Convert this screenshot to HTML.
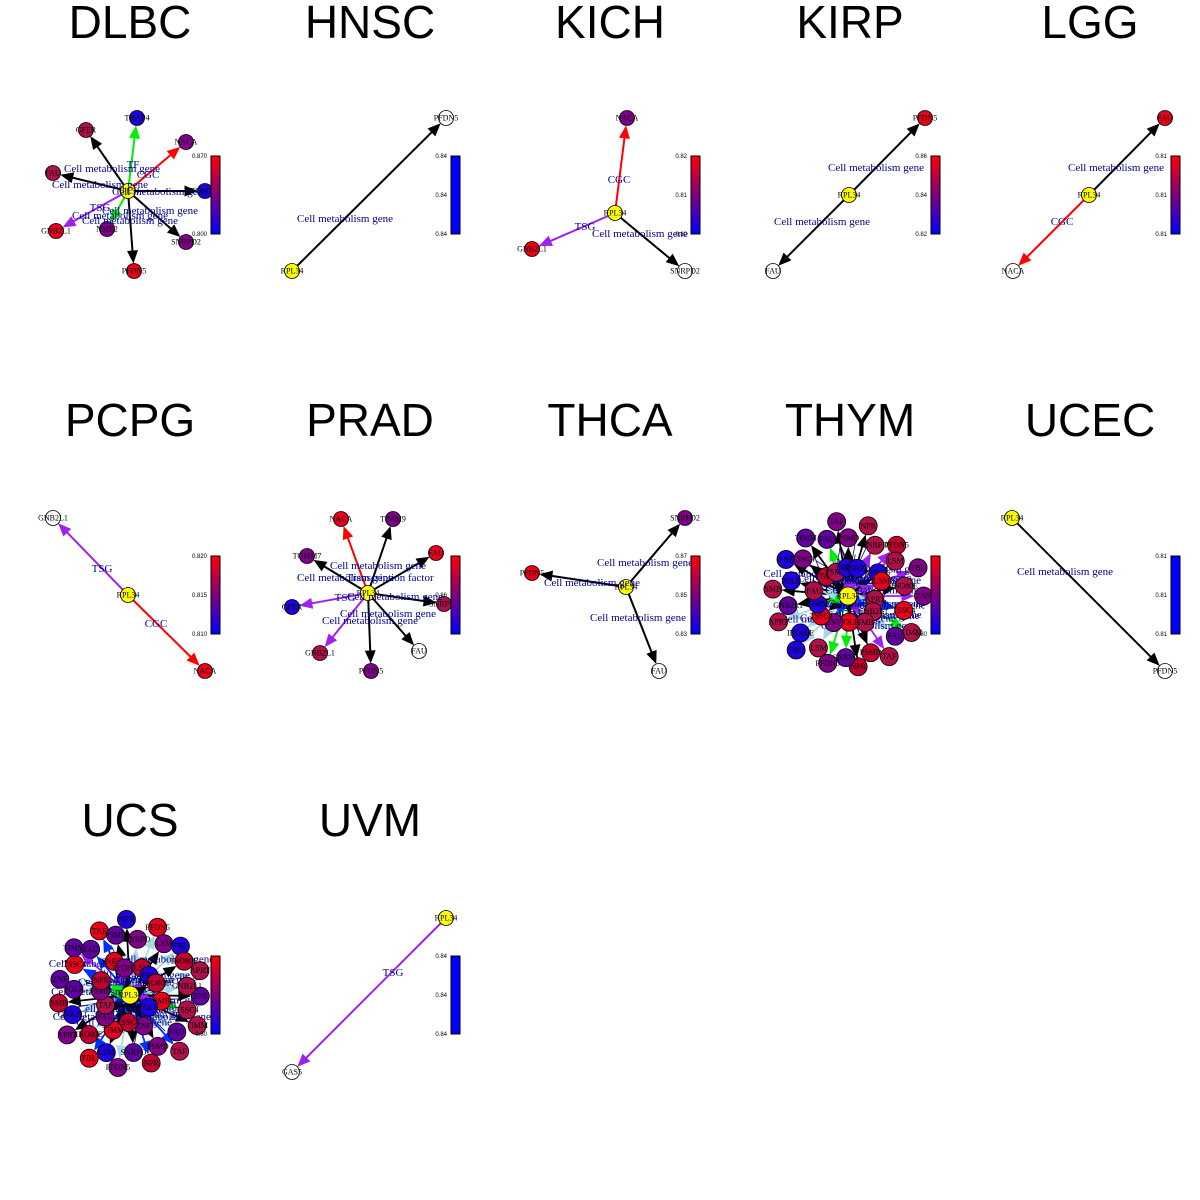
<!DOCTYPE html>
<html><head><meta charset="utf-8"><style>
html,body{margin:0;padding:0;background:#fff;width:1200px;height:1200px;overflow:hidden}
svg{display:block}
</style></head><body>
<svg id="s" width="1200" height="1200" xmlns="http://www.w3.org/2000/svg">
<defs>
<linearGradient id="cb" x1="0" y1="0" x2="0" y2="1">
<stop offset="0" stop-color="#ff0000"/><stop offset="0.5" stop-color="#800080"/><stop offset="1" stop-color="#0000ff"/>
</linearGradient>
</defs>
</svg>
<script>
var s=document.getElementById('s');var NS='http://www.w3.org/2000/svg';
function el(t,a,txt){var e=document.createElementNS(NS,t);for(var k in a)e.setAttribute(k,a[k]);if(txt!=null)e.textContent=txt;s.appendChild(e);return e;}
var seed=7;function rnd(){seed=(seed*16807)%2147483647;return seed/2147483647;}
var titles=[['DLBC',130,22],['HNSC',370,22],['KICH',610,22],['KIRP',850,22],['LGG',1090,22],['PCPG',130,420],['PRAD',370,420],['THCA',610,420],['THYM',850,420],['UCEC',1090,420],['UCS',130,820],['UVM',370,820]];
titles.forEach(function(t){el('text',{x:t[1],y:t[2]+16,'font-family':'Liberation Sans, sans-serif','font-size':46,'text-anchor':'middle'},t[0]);});
function cbar(ox,oy,labs,solid){el('rect',{x:ox+211,y:oy+156,width:9,height:78,fill:solid?'#0000ff':'url(#cb)',stroke:'#000','stroke-width':1});
 for(var i=0;i<3;i++)el('text',{x:ox+207,y:oy+158+i*39,'font-family':'Liberation Sans, sans-serif','font-size':6,'text-anchor':'end'},labs[i]);}
function arrow(x1,y1,x2,y2,c,w,nr){nr=nr||7.5;var dx=x2-x1,dy=y2-y1,L=Math.sqrt(dx*dx+dy*dy);var ux=dx/L,uy=dy/L;var ex=x2-ux*nr,ey=y2-uy*nr;
 el('line',{x1:x1,y1:y1,x2:ex-ux*8,y2:ey-uy*8,stroke:c,'stroke-width':w||2});
 var bx=ex-ux*13,by=ey-uy*13;el('polygon',{points:ex+','+ey+' '+(bx-uy*5.5)+','+(by+ux*5.5)+' '+(bx+uy*5.5)+','+(by-ux*5.5),fill:c});}
function node(x,y,f,l,r){el('circle',{cx:x,cy:y,r:r||7.5,fill:f,stroke:'#000','stroke-width':0.8});if(l)el('text',{x:x,y:y+2.5,'font-family':'Liberation Serif, serif','font-size':8,'text-anchor':'middle'},l);}
function lab(x,y,t){el('text',{x:x,y:y,'font-family':'Liberation Serif, serif','font-size':11,fill:'#00008b','text-anchor':'middle'},t);}
var R='#e8001c',P='#80008a',B='#2000e0',C='#b0104a',W='#fff',Y='#ffff00',BK='#000',GR='#00ee00',PU='#a020f0',RE='#ff0000',LB='#a8d8e8';
function star(cx,cy,nodes,labels){nodes.forEach(function(n){arrow(cx,cy,n[0],n[1],n[4]||BK);});nodes.forEach(function(n){node(n[0],n[1],n[2],n[3]);});node(cx,cy,Y,'RPL34');(labels||[]).forEach(function(l){lab(l[0],l[1],l[2]);});}
star(128,191,[[137,118,B,'THAP4',GR],[86,130,C,'GFER'],[186,142,P,'NACA',RE],[53,173,C,'FAU'],[205,191,B,'TOMM7'],[56,231,R,'GNB2L1',PU],[107,229,P,'NME2',GR],[186,242,P,'SNRPD2'],[134,271,R,'PFDN5']],
[[112,172,'Cell metabolism gene'],[100,188,'Cell metabolism gene'],[160,195,'Cell metabolism gene'],[133,168,'TF'],[148,178,'CGC'],[100,211,'TSG'],[150,214,'Cell metabolism gene'],[120,219,'Cell metabolism gene'],[130,224,'Cell metabolism gene']]);
cbar(0,0,['0.870','','0.800']);
arrow(292,271,446,118,BK);node(446,118,W,'PFDN5');node(292,271,Y,'RPL34');lab(345,222,'Cell metabolism gene');cbar(240,0,['0.84','0.84','0.84'],1);
star(615,213,[[627,118,P,'NACA',RE],[532,249,R,'GNB2L1',PU],[685,271,W,'SNRPD2']],[[619,183,'CGC'],[585,230,'TSG'],[640,237,'Cell metabolism gene']]);cbar(480,0,['0.82','0.81','0.80']);
star(849,195,[[925,118,R,'PFDN5'],[773,271,W,'FAU']],[[876,171,'Cell metabolism gene'],[822,225,'Cell metabolism gene']]);cbar(720,0,['0.86','0.84','0.82']);
star(1089,195,[[1165,118,R,'FAU'],[1013,271,W,'NACA',RE]],[[1116,171,'Cell metabolism gene'],[1062,225,'CGC']]);cbar(960,0,['0.81','0.81','0.81']);
star(128,595,[[53,518,W,'GNB2L1',PU],[205,671,R,'NACA',RE]],[[102,572,'TSG'],[156,627,'CGC']]);cbar(0,400,['0.820','0.815','0.810']);
star(368,593,[[341,519,R,'NACA',RE],[393,519,P,'TIMM9'],[307,556,P,'TOMM7'],[436,553,R,'FAU'],[444,604,C,'SNRPD2'],[292,607,B,'GFER',PU],[320,653,C,'GNB2L1',PU],[371,671,P,'PFDN5'],[419,651,W,'FAU']],
[[378,569,'Cell metabolism gene'],[345,581,'Cell metabolism gene'],[390,581,'Transcription factor'],[345,601,'TSG'],[395,600,'Cell metabolism gene'],[388,617,'Cell metabolism gene'],[370,624,'Cell metabolism gene']]);cbar(240,400,['','0.86','']);
star(626,587,[[685,518,P,'SNRPD2'],[532,573,R,'PFDN5'],[659,671,W,'FAU']],[[645,566,'Cell metabolism gene'],[592,586,'Cell metabolism gene'],[638,621,'Cell metabolism gene']]);cbar(480,400,['0.87','0.85','0.83']);
arrow(1012,518,1165,671,BK);node(1165,671,W,'PFDN5');node(1012,518,Y,'RPL34');lab(1065,575,'Cell metabolism gene');cbar(960,400,['0.81','0.81','0.81'],1);
arrow(446,918,292,1072,PU);node(292,1072,W,'GAS5');node(446,918,Y,'RPL34');lab(393,976,'TSG');cbar(240,800,['0.84','0.84','0.84'],1);
function dense(cx,cy,ox,oy,n){var cols=[R,P,B,C,'#6000a0','#c00030'];var ecol=[BK,BK,BK,LB,LB,GR,PU,'#0030ff'];var pts=[];
 for(var i=0;i<n;i++){var a=i/n*6.283+rnd()*0.1;var r=i%2?56+rnd()*8:70+rnd()*6;pts.push([cx+Math.cos(a)*r,cy+Math.sin(a)*r]);}
 for(var i=0;i<14;i++){var a=i/14*6.283+rnd()*0.3,r=22+rnd()*18;pts.push([cx+Math.cos(a)*r,cy+Math.sin(a)*r]);}
 for(var i=0;i<80;i++){var a=rnd()*6.283,r=rnd()*55;el('line',{x1:cx+(rnd()-.5)*30,y1:cy+(rnd()-.5)*30,x2:cx+Math.cos(a)*r,y2:cy+Math.sin(a)*r,stroke:'#00008b','stroke-width':0.8});}
 pts.forEach(function(p){arrow(cx,cy,p[0],p[1],ecol[Math.floor(rnd()*ecol.length)],1.8,9);});
 for(var i=0;i<14;i++)lab(cx+(rnd()-.5)*80,cy+(rnd()-.5)*70,'Cell metabolism gene');
 var names=['ZNF','TSSC4','TIMM','FAU','TAF','PSMD','NPR','SNRPD','PFDN5','LSM','FBL','INO80E','APRT','GNB2L1','SMB','POLR'];
 pts.forEach(function(p,i){node(p[0],p[1],cols[Math.floor(rnd()*cols.length)],names[i%names.length],9);});
 node(cx,cy,Y,'RPL34',9);cbar(ox,oy,['','','0.80']);}
dense(848,596,720,400,28);
dense(130,995,0,800,30);
</script>
</body></html>
